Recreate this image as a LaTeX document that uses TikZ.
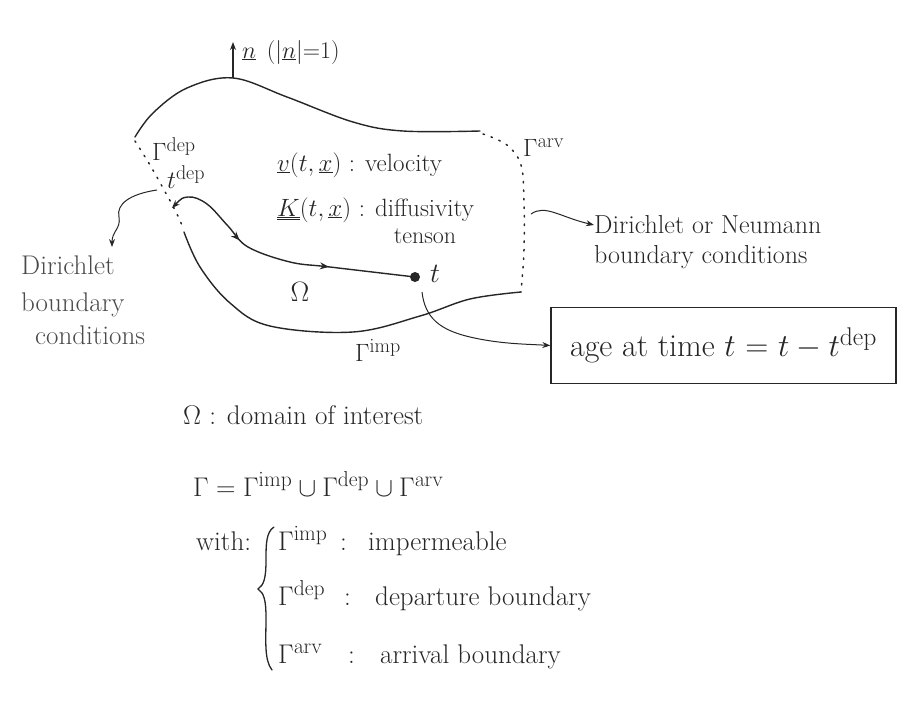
\RequirePackage{fix-cm}
\documentclass[tikz,border=0pt]{standalone}
\usetikzlibrary{arrows.meta,decorations.markings}
\definecolor{ink}{HTML}{262626}
\definecolor{pencil}{HTML}{4A4A4A}
\makeatletter
\def\defaultscriptratio{.8}
\makeatother
\begin{document}
\begin{tikzpicture}[x=1pt,y=-1pt,
  bnd/.style={draw=ink, line width=1.4pt, line cap=round},
  dotbnd/.style={draw=ink, line width=1.5pt, dash pattern=on 1.5pt off 7pt, line cap=round},
  lbl/.style={text=ink, inner sep=0pt, font=\fontsize{25}{30}\selectfont},
  leg/.style={text=ink, inner sep=0pt, anchor=base west, font=\fontsize{27}{32}\selectfont},
  side/.style={text=ink, inner sep=0pt, anchor=base west, font=\fontsize{26}{31}\selectfont},
  conn/.style={draw=ink, line width=1pt, -{Stealth[length=8pt,width=6pt]}},
  traj/.style={draw=ink, line width=1.4pt,
    postaction={decorate},
    decoration={markings,
      mark=at position 0.33 with {\arrow{Stealth[length=9pt,width=7pt]}},
      mark=at position 0.68 with {\arrow{Stealth[length=9pt,width=7pt]}}}},
  dotnode/.style={circle, fill=ink, inner sep=0pt, minimum size=10pt}
]
\useasboundingbox (0,0) rectangle (921,702);

% ---- domain boundary
\draw[bnd] plot[smooth, tension=0.6] coordinates
  {(135,137) (153,113) (187,88) (233,78) (287,97) (353,122) (403,131) (480,131)};
\draw[dotbnd] plot[smooth, tension=0.6] coordinates
  {(483,134) (507,145) (521,165) (524,200) (524,250) (521,292)};
\draw[bnd] plot[smooth, tension=0.6] coordinates
  {(521,292) (470,299) (420,316) (353,332) (270,326) (230,303) (200,267) (184,232)};
\draw[dotbnd] plot[smooth, tension=0.6] coordinates
  {(135,141) (150,165) (163,188) (176,212) (184,230)};

% ---- normal vector
\coordinate (nb) at (233,78);
\coordinate (nt) at (233,42);
\draw[draw=ink, line width=1.3pt, -{Stealth[length=8pt,width=6pt]}] (nb) -- (nt);
\node[lbl, anchor=west, font=\fontsize{24}{28}\selectfont] (nlab) at (242,52)
  {$\underline{n}\;\,(|\underline{n}|{=}1)$};

% ---- labels on domain
\node[lbl, anchor=west] (gdep) at (152,149) {$\Gamma^{\mathrm{dep}}$};
\node[lbl, anchor=west] (tdeplab) at (167,177) {$t^{\mathrm{dep}}$};
\node[lbl, anchor=west] (garv) at (523,148) {$\Gamma^{\mathrm{arv}}$};
\node[lbl, anchor=west] (vel) at (277,165) {$\underline{v}(t,\underline{x})$ : velocity};
\node[lbl, anchor=west] (dif) at (277,210) {$\underline{\underline{K}}(t,\underline{x})$ : diffusivity};
\node[lbl, font=\fontsize{24}{28}\selectfont] (tens) at (425,236) {tenson};
\node[lbl, font=\fontsize{28}{32}\selectfont] (omega) at (300,292) {$\Omega$};
\node[lbl, anchor=west, font=\fontsize{28}{32}\selectfont] (tlab) at (430,274) {$t$};
\node[lbl] (gimp) at (378,350) {$\Gamma^{\mathrm{imp}}$};

% ---- trajectory
\coordinate (tdep) at (172,208);
\node[dotnode] (t) at (415,277) {};
\draw[traj, {Stealth[length=8pt,width=6pt]}-] plot[smooth, tension=0.6] coordinates
  {(tdep) (188,197) (207,204) (228,226) (248,247) (290,262) (330,267) (t.center)};

% ---- Dirichlet (left)
\coordinate (dl0) at (157,190);
\coordinate (dl1) at (112,247);
\draw[conn] (dl0) .. controls (130,194) and (116,204) .. (119,217)
                  .. controls (121,229) and (112,231) .. (dl1);
\node[side, text=pencil, font=\fontsize{27}{32}\selectfont] (dirl1) at (21,274) {Dirichlet};
\node[side, text=pencil, font=\fontsize{27}{32}\selectfont] (dirl2) at (21,311) {boundary};
\node[side, text=pencil, font=\fontsize{27}{32}\selectfont] (dirl3) at (35,344) {conditions};

% ---- Dirichlet or Neumann (right)
\coordinate (dr0) at (531,214);
\node[side] (dirr1) at (594,233) {Dirichlet or Neumann};
\node[side] (dirr2) at (594,263) {boundary conditions};
\draw[conn] (dr0) .. controls (545,204) and (560,217) .. (dirr1.west |- 0,225);

% ---- age box
\node[draw=ink, line width=1.4pt, minimum width=345pt, minimum height=76pt, inner sep=0pt,
      text=ink, font=\fontsize{32}{38}\selectfont] (age) at (723.5,345.5)
  {age at time $t$ $=$ $t - t^{\mathrm{dep}}$};
\coordinate (ts) at (422,292);
\draw[conn] (ts) .. controls (425,318) and (440,330) .. (470,337)
                .. controls (500,344) and (525,344) .. (age.west);

% ---- legend
\node[leg] (leg1) at (183,424) {$\Omega$ : domain of interest};
\node[leg] (leg2) at (193,496)
  {$\Gamma = \Gamma^{\mathrm{imp}} \cup \Gamma^{\mathrm{dep}} \cup \Gamma^{\mathrm{arv}}$};
\node[leg] (with) at (196,550) {with:};
\draw[draw=ink, line width=1.3pt, line cap=round]
  (274,527) .. controls (266,532) and (266,545) .. (266,560)
  .. controls (266,578) and (264,585) .. (258,589)
  .. controls (264,593) and (266,600) .. (266,618)
  .. controls (266,640) and (264,660) .. (272,670);
\node[leg] (g1) at (278,550) {$\Gamma^{\mathrm{imp}}$};
\node[leg] (c1) at (340,550) {:};
\node[leg] (d1) at (368,550) {impermeable};
\node[leg] (g2) at (278,605) {$\Gamma^{\mathrm{dep}}$};
\node[leg] (c2) at (344,605) {:};
\node[leg] (d2) at (375,605) {departure boundary};
\node[leg] (g3) at (278,663) {$\Gamma^{\mathrm{arv}}$};
\node[leg] (c3) at (348,663) {:};
\node[leg] (d3) at (380,663) {arrival boundary};
\end{tikzpicture}
\end{document}
